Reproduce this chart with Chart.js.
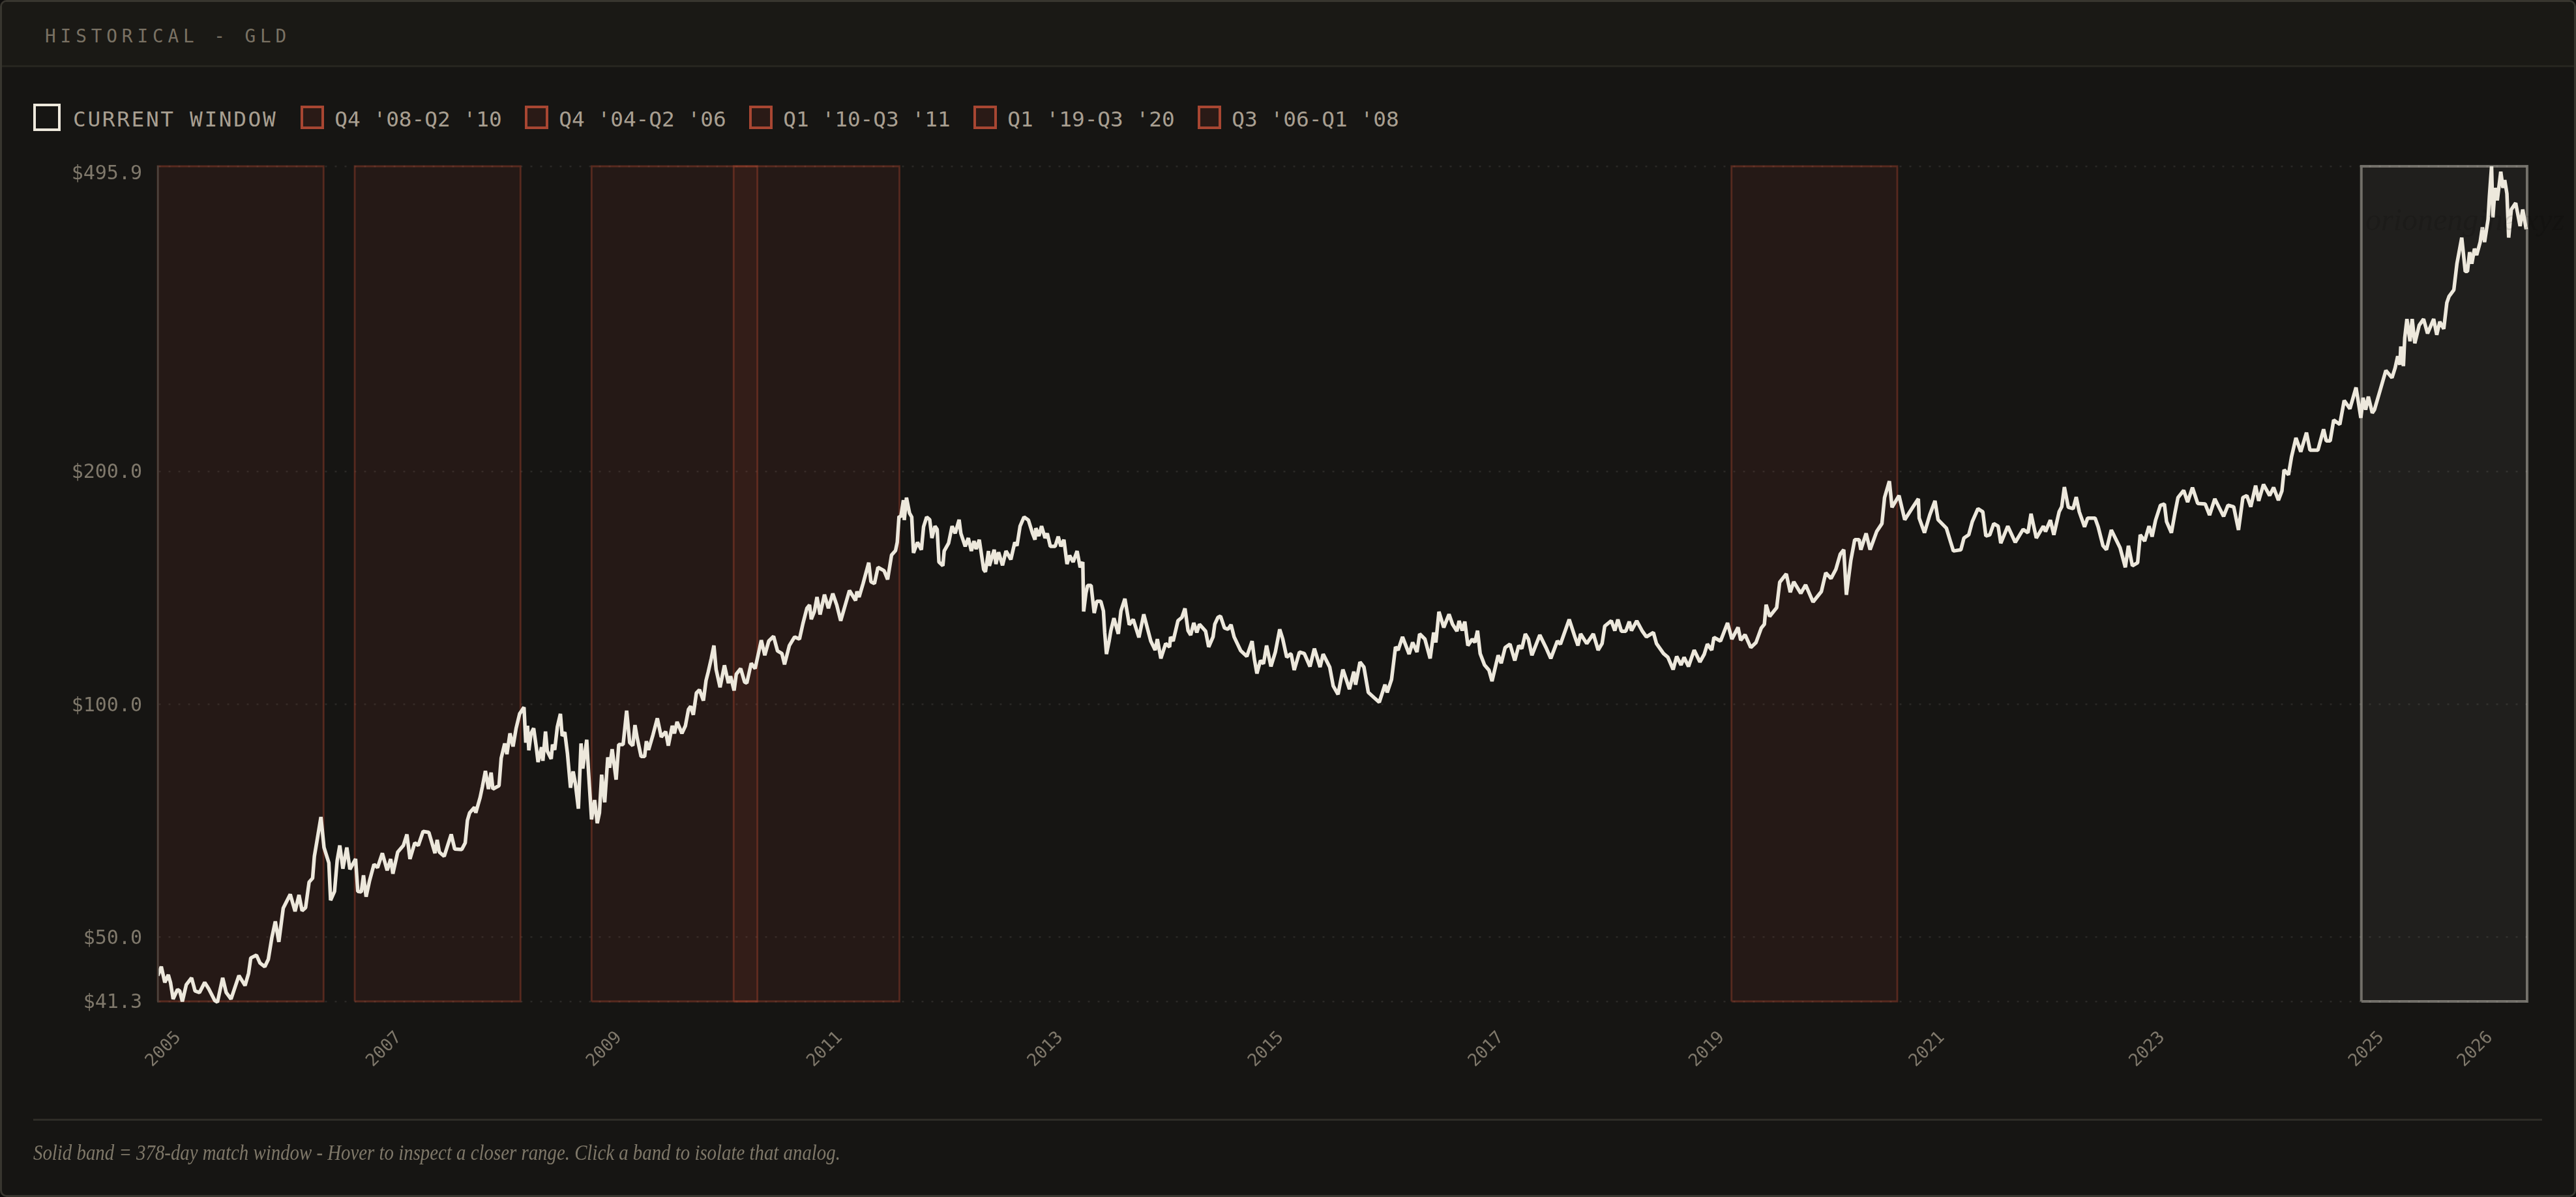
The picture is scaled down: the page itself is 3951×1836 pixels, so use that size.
<!DOCTYPE html>
<html><head><meta charset="utf-8">
<script src="https://cdn.jsdelivr.net/npm/chart.js@4"></script>
<style>
*{box-sizing:border-box}
html,body{margin:0;padding:0;background:#0e0d0c;width:3951px;height:1836px;overflow:hidden}
#card{position:absolute;left:0;top:0;width:3951px;height:1836px;background:#161513;border:3px solid #38362f;border-radius:10px;overflow:hidden}
#head{position:absolute;left:3px;top:3px;width:3945px;height:100px;background:#1a1915;border-bottom:3px solid #26251f;border-radius:7px 7px 0 0}
#title{position:absolute;left:69px;top:38px;font:27.7px/36px "DejaVu Sans Mono",monospace;letter-spacing:6.9px;color:#7a7264;white-space:pre}
#legend{position:absolute;left:51px;top:159px;height:42px;display:flex;align-items:center;font:32.76px/42px "DejaVu Sans Mono",monospace;color:#a89f91;white-space:pre}
.it{display:flex;align-items:center;margin-right:35.7px}
.it .tx{position:relative;top:3px}
.bx{display:block;width:36px;height:36px;border:4px solid #a84632;background:#2a1a16;margin-right:16px}
.cur .bx{width:42px;height:42px;border-color:#ede8dc;background:transparent;margin-right:19px}
.cur{letter-spacing:2.66px;margin-right:36px}
#chart{position:absolute;left:0;top:0;width:3951px;height:1836px}
#rule{position:absolute;left:51px;top:1716px;width:3848px;height:3px;background:#2e2c27}
#foot{position:absolute;left:51px;top:1748px;font:italic 33px/40px "Liberation Serif",serif;color:#7f7869;white-space:pre;transform-origin:0 50%;transform:scaleX(.874)}
#mark{position:absolute;left:3628px;top:305px;font:italic 48px/64px "Liberation Serif",serif;color:rgba(0,0,0,.12);white-space:pre;pointer-events:none}
</style></head><body>
<div id="card"></div>
<div id="head"></div>
<div id="title">HISTORICAL - GLD</div>
<div id="legend"></div>
<canvas id="chart" width="3951" height="1836"></canvas>
<div id="mark">orionengine.xyz</div>
<div id="rule"></div>
<div id="foot">Solid band = 378-day match window - Hover to inspect a closer range. Click a band to isolate that analog.</div>
<script>
const days=[0,8,16,24,29,35,45,50,56,65,77,85,95,107,116,130,136,148,156,167,185,199,207,212,225,233,244,252,260,268,276,286,302,313,322,329,337,345,353,357,363,372,379,390,394,403,409,415,422,431,438,451,456,464,469,475,483,493,501,512,523,531,536,547,560,568,575,586,594,605,618,632,637,642,653,669,677,693,701,706,711,722,725,735,740,747,754,760,764,778,783,791,796,803,810,817,825,
835,839,843,846,851,857,863,867,875,878,884,888,897,900,905,911,918,922,928,934,941,947,952,959,965,969,978,982,989,996,1002,1007,1012,1019,1026,1030,1036,1045,1051,1061,1069,1076,1083,1088,1093,1102,1110,1114,1119,1129,1139,1148,1158,1164,1173,1178,1184,1195,1203,1210,1215,1221,1228,1235,1244,1250,1255,1262,1268,1273,1282,1292,1301,1306,1314,1319,1329,1338,1343,1353,1362,1369,1376,1384,1393,1404,1413,1423,1429,1440,1452,1463,1471,1480,1486,1490,1497,1503,1510,1520,1529,1539,1548,1557,1577,1591,1594,1599,1608,1621,1626,1634,1642,1656,1664,1673,1682,1686,1690,
1694,1700,1702,1707,1714,1719,1723,1732,1741,1746,1753,1760,1765,1772,1777,1781,1790,1793,1803,1811,1818,1827,1831,1841,1848,1855,1861,1866,1873,1883,1887,1894,1896,1907,1911,1917,1926,1934,1945,1954,1959,1966,1975,1985,1994,2000,2002,2009,2015,2023,2028,2035,2046,2053,2059,2066,2073,2079,2087,2096,2103,2109,2111,2116,2120,2128,2135,2141,2150,2156,2159,2163,2169,2173,2180,2190,2196,2205,2215,2224,2237,2248,2264,2274,2279,2287,2298,2307,2309,2315,2326,2335,2342,2349,2355,2362,2369,2375,2389,2396,2406,2410,2417,2423,2432,2440,2447,2454,2469,2483,2495,2500,2506,2514,2521,2528,2538,2548,2558,2565,2574,2582,
2584,2591,2603,2614,2627,2637,2650,2657,2672,2680,2691,2702,2710,2717,2727,2731,2741,2750,2760,2773,2785,2798,2803,2813,2822,2828,2838,2853,2861,2871,2877,2889,2901,2909,2914,2921,2932,2944,2952,2962,2967,2974,2980,2987,2997,3003,3009,3015,3025,3035,3042,3056,3063,3072,3083,3094,3103,3110,3118,3125,3133,3151,3165,3176,3191,3198,3218,3231,3238,3244,3258,3273,3284,3293,3299,3314,3322,3329,3337,3347,3355,3360,3372,3384,3394,3410,3417,3433,3443,3455,3463,3473,3480,3490,3503,3516,3526,3533,3543,3548,3563,3579,3589,3603,3609,3619,
3632,3644,3656,3663,3667,3675,3691,3698,3713,3722,3730,3746,3757,3774,3793,3803,3815,3826,3836,3844,3850,3860,3869,3879,3883,3895,3904,3919,3931,3937,3948,3954,3970,3983,4002,4014,4016,4028,4040,4052,4059,4078,4087,4094,
4111,4118,4129,4137,4150,4161,4168,4177,4186,4196,4202,4218,4235,4253,4264,4271,4283,4299,4304,4315,4323,4335,4341,4347,4356,4367,4374,4381,4393,4400,4417,4424,4435,4443,4454,4474,4486,4493,4502,4514,4520,4530,4540,4547,4555,4566,4575,4580,4591,4599,4606,4619,4628,4639,4651,4668,4678,4690,4710,4720,4733,4744,4754,4763,4772,4783,4790,4801,4815,4824,4835,4843,4848,4858,4865,4875,4886,4899,4907,4925,4938,4944,4953,4961,4975,4985,4998,5012,5023,
5028,5034,5040,5049,5054,5067,5080,5094,5101,5107,5112,5114,5120,5123,5128,5135,5140,5146,5156,5166,5175,5189,5196,5203,5212,5219,5224,5235,5242,5253,5261,5266,5271,5276,5282,5287,5295,5300,5305,5313,5316,5321,5324,5329,5334,5342,5347,5351,5356,5360,5366,5376,5386,5392,5400];
const prices=[44.6,45.8,43.7,44.7,43.7,41.6,42.8,42.6,41.3,43.4,44.3,42.6,42.4,43.7,42.9,41.4,41.2,44.3,42.4,41.6,44.6,43.3,44.9,47.0,47.4,46.3,45.8,46.8,49.9,52.4,49.3,54.5,56.8,54.0,56.7,54.1,54.6,58.9,59.6,63.6,66.6,71.5,65.3,62.4,55.8,57.3,62.8,65.7,61.3,65.3,61.2,63.1,57.3,57.2,60.1,56.4,59.2,62.1,61.5,64.2,61.0,63.1,60.4,64.4,65.7,67.9,63.1,66.2,65.7,68.5,68.3,64.2,66.8,64.4,63.6,67.9,65.0,64.9,66.2,70.8,72.4,73.6,72.4,75.8,78.2,82.0,77.7,81.6,77.7,78.5,85.2,89.0,86.2,91.7,88.2,93.1,97.2,
99.1,89.2,93.8,87.2,91.7,93.1,88.0,84.2,88.0,84.5,92.2,87.0,85.0,88.7,87.3,93.5,97.2,91.0,92.0,86.4,78.0,81.9,79.1,73.3,89.0,82.6,90.0,81.9,71.0,75.2,70.2,72.4,81.1,74.7,85.4,82.8,87.5,79.9,88.7,88.7,98.1,89.2,88.4,94.0,90.5,85.6,85.6,89.6,87.3,91.3,95.9,90.7,92.2,88.4,93.8,91.7,94.9,91.7,93.8,98.5,99.4,96.9,103.4,104.4,101.1,107.3,110.1,114.6,119.1,110.9,105.2,112.3,106.5,108.7,104.2,109.4,111.2,106.8,106.5,113.0,111.2,116.0,121.0,115.7,120.7,122.4,117.2,116.3,112.6,119.1,122.2,121.4,127.2,133.1,134.4,128.8,131.8,137.6,130.6,138.6,133.1,139.0,134.4,128.2,140.3,136.2,139.9,137.6,143.2,152.4,144.0,143.2,150.3,148.8,145.0,155.9,158.0,162.0,175.0,
174.6,183.6,173.0,185.0,176.6,174.6,156.9,161.9,158.4,169.6,174.6,173.2,164.0,169.9,168.3,152.7,151.0,157.8,161.5,169.9,166.3,173.2,166.3,160.0,164.0,157.8,162.5,158.7,163.2,149.4,148.3,157.8,151.0,158.4,151.8,157.2,151.2,157.8,153.9,161.9,160.3,169.9,174.6,173.0,166.6,163.2,168.9,165.0,169.9,164.0,166.3,160.0,160.0,164.7,160.0,163.2,151.8,155.7,152.7,157.8,150.3,152.7,131.8,139.1,142.4,142.4,131.2,135.9,135.9,132.0,123.8,116.1,120.7,124.5,129.2,123.3,132.0,136.9,126.7,128.7,122.0,130.7,120.7,117.5,121.4,114.6,119.8,118.6,122.2,120.7,128.2,129.5,133.0,124.5,122.9,127.4,123.8,126.9,124.3,118.6,122.2,126.9,129.5,130.0,125.5,125.0,126.7,122.2,117.3,115.3,120.7,114.6,109.6,113.9,112.8,119.1,111.9,116.8,125.0,121.4,115.0,116.1,
116.1,110.7,116.8,116.3,111.9,118.0,111.7,116.1,111.7,105.6,103.0,110.9,107.5,104.6,110.2,106.0,113.4,111.7,103.6,102.0,100.6,106.0,103.6,107.7,118.6,117.5,122.2,116.1,120.2,116.8,123.3,121.4,114.6,123.8,120.2,131.7,125.7,130.7,126.9,124.3,128.2,124.5,127.9,119.1,121.4,120.2,124.5,116.3,112.4,110.7,107.1,115.7,113.0,118.4,119.6,113.9,119.1,118.0,123.3,121.4,115.7,122.9,118.4,114.6,120.7,119.6,128.7,122.2,119.1,123.3,119.8,123.3,117.5,119.8,126.2,128.2,124.5,128.7,124.3,124.3,127.9,124.5,128.2,124.5,122.2,123.8,119.8,116.3,115.0,110.9,115.3,112.4,115.0,111.9,117.5,113.4,116.1,119.6,117.5,122.0,120.7,127.4,121.4,125.7,121.0,123.0,
118.4,120.2,125.5,126.9,134.5,129.9,133.3,143.8,147.4,139.6,144.0,139.1,142.7,135.6,139.9,147.9,145.4,149.4,156.3,158.4,138.5,153.3,163.2,163.2,158.4,166.3,158.4,167.2,171.2,185.0,194.3,179.7,186.1,173.2,180.0,184.3,174.0,166.6,175.6,183.2,173.2,168.9,162.5,157.8,
158.4,164.0,165.6,172.2,179.0,177.3,165.0,165.6,171.2,169.9,161.5,169.9,161.9,168.3,166.6,176.3,164.0,169.9,167.2,173.0,165.6,177.3,180.0,190.9,179.7,179.0,185.3,177.3,169.6,174.0,174.0,169.6,160.3,158.4,168.0,159.3,150.3,160.3,151.0,152.4,165.6,162.5,169.9,164.7,173.0,180.8,181.5,172.2,166.6,176.6,185.0,189.0,182.5,190.6,181.8,181.5,175.6,184.3,174.9,180.8,180.0,168.0,185.0,186.1,180.0,191.7,183.2,192.4,186.1,190.6,183.5,188.7,201.0,198.0,209.0,221.0,212.0,224.5,213.0,213.0,226.7,219.0,219.0,233.0,230.0,247.0,241.0,256.7,234.5,
249.0,240.3,249.8,238.0,240.3,254.7,270.0,264.2,272.0,281.7,274.7,290.0,273.6,297.5,314.7,294.6,314.7,292.8,309.0,314.7,301.5,314.7,300.3,312.2,305.6,330.3,336.7,343.3,371.0,401.0,362.6,362.6,384.0,371.0,388.0,380.6,395.7,413.6,395.7,423.4,453.0,495.9,425.9,465.0,448.0,487.9,465.0,476.0,457.0,401.0,436.0,444.5,415.0,436.0,411.0];
const yTicks=[41.3,50,100,200,495.9];
const yTickLabels=["$41.3","$50.0","$100.0","$200.0","$495.9"];
const xTicks=[47,550,1052,1555,2058,2561,3063,3566,4068,4570,5070,5318];
const xTickLabels=["2005","2007","2009","2011","2013","2015","2017","2019","2021","2023","2025","2026"];
const bandLabels=["Q4 '08-Q2 '10","Q4 '04-Q2 '06","Q1 '10-Q3 '11","Q1 '19-Q3 '20","Q3 '06-Q1 '08"];
const bandStarts=[989,0,1313,3588,449];
const bandEnds=[1367,378,1691,3966,827];
const currentLabel="CURRENT WINDOW";
const currentStart=5024, currentEnd=5402;
const yMin=41.3,yMax=495.9,xMax=5402;
const mono='"DejaVu Sans Mono",monospace';

function outline(s,e){return [{x:s,y:yMin},{x:s,y:yMax},{x:e,y:yMax},{x:e,y:yMin},{x:s,y:yMin}];}
function area(s,e){return [{x:s,y:yMax},{x:e,y:yMax}];}
const priceSet={label:"GLD",data:days.map((d,i)=>({x:d,y:prices[i]})),borderColor:"#ede8dc",borderWidth:5.5,borderJoinStyle:"bevel",pointRadius:0,tension:0,fill:false,order:0,clip:{left:0,top:0,right:3,bottom:6}};
const bandEdge="rgba(176,69,48,.4)",bandFill="rgba(176,69,48,.1)";
const bandSets=bandLabels.flatMap((l,i)=>[
 {label:l,data:outline(bandStarts[i],bandEnds[i]),borderColor:bandEdge,borderWidth:2.8,pointRadius:0,tension:0,fill:false,order:2,clip:false},
 {label:l+" fill",data:area(bandStarts[i],bandEnds[i]),borderWidth:0,borderColor:"transparent",backgroundColor:bandFill,pointRadius:0,tension:0,fill:"start",order:3}]);
const curSets=[
 {label:currentLabel,data:outline(currentStart,currentEnd),borderColor:"rgba(237,232,220,.41)",borderWidth:4,pointRadius:0,tension:0,fill:false,order:1,clip:false},
 {label:currentLabel+" fill",data:area(currentStart,currentEnd),borderWidth:0,borderColor:"transparent",backgroundColor:"rgba(237,232,220,.05)",pointRadius:0,tension:0,fill:"start",order:3}];

new Chart(document.getElementById("chart"),{type:"line",
 data:{datasets:[priceSet,...curSets,...bandSets]},
 options:{responsive:false,devicePixelRatio:1,animation:false,
  layout:{padding:{left:0,right:75,top:255,bottom:0}},
  plugins:{legend:{display:false},tooltip:{enabled:false}},
  scales:{
   x:{type:"linear",min:0,max:xMax,
      afterBuildTicks:s=>{s.ticks=xTicks.map(v=>({value:v}))},
      afterFit:s=>{s.height=300},
      grid:{display:false},border:{display:false},
      ticks:{autoSkip:false,minRotation:45,maxRotation:45,padding:32,color:"#7f786b",font:{family:mono,size:26.5},
        callback:v=>xTickLabels[xTicks.indexOf(v)]}},
   y:{type:"logarithmic",min:yMin,max:yMax,
      afterBuildTicks:s=>{s.ticks=yTicks.map(v=>({value:v}))},
      afterFit:s=>{s.width=242},
      grid:{color:"#2a2926",lineWidth:2.5,drawTicks:false},
      border:{display:true,color:"#4a433d",width:2.5,dash:[3,12],z:1},
      ticks:{padding:24,color:"#7f786b",
        font:c=>({family:mono,size:30,lineHeight:(c.tick&&c.tick.value===yMax)?.8:.17}),
        callback:v=>["",yTickLabels[yTicks.indexOf(v)]]}}
  }}});

const lg=document.getElementById("legend");
function item(label,cls){const d=document.createElement("div");d.className="it "+cls;
 const b=document.createElement("span");b.className="bx";const t=document.createElement("span");t.className="tx";t.textContent=label;
 d.append(b,t);lg.append(d);}
item(currentLabel,"cur");bandLabels.forEach(l=>item(l,""));
</script></body></html>
